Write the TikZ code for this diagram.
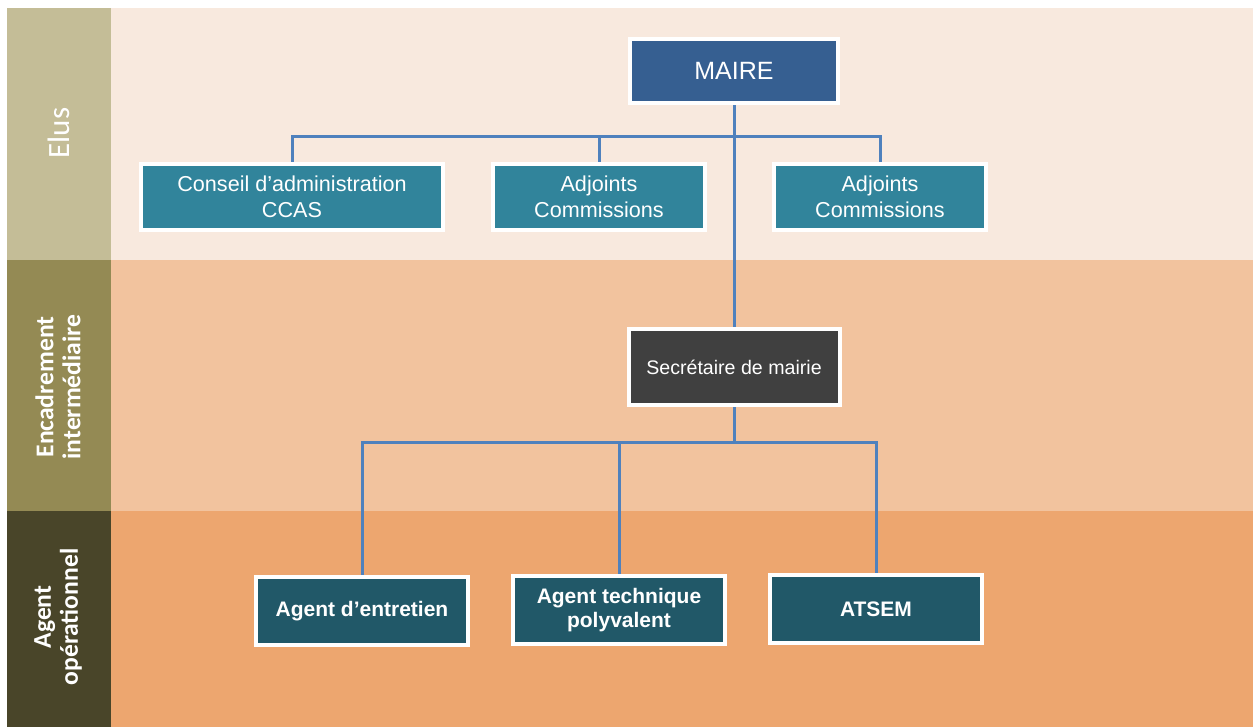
\documentclass[tikz,border=0pt]{standalone}
\usepackage{fontspec}
\setmainfont{Liberation Sans}
\newfontfamily\carlito{Carlito}
\usetikzlibrary{backgrounds,shadows}

\definecolor{colElus}{RGB}{196,189,151}
\definecolor{colEncad}{RGB}{148,138,84}
\definecolor{colAgent}{RGB}{73,69,41}
\definecolor{fondElus}{RGB}{248,233,222}
\definecolor{fondEncad}{RGB}{242,195,158}
\definecolor{fondAgent}{RGB}{237,166,111}
\definecolor{bleuMaire}{RGB}{54,95,145}
\definecolor{bleuElu}{RGB}{49,132,155}
\definecolor{grisSec}{RGB}{64,64,64}
\definecolor{bleuAgent}{RGB}{33,88,104}
\definecolor{bleuLien}{RGB}{79,129,189}

\tikzset{
	boite/.style={draw=white, line width=2pt, text=white, align=center, inner sep=0pt,
		drop shadow={shadow xshift=1pt, shadow yshift=-1pt, opacity=0.3, fill=black}},
	elu/.style={boite, fill=bleuElu, minimum width=106pt, minimum height=33pt,
		font=\fontsize{10.8}{12.8}\selectfont},
	agent/.style={boite, fill=bleuAgent, minimum width=106pt, minimum height=34pt,
		font=\bfseries\fontsize{10.5}{12}\selectfont},
	lien/.style={draw=bleuLien, line width=1.5pt},
	bande/.style={rotate=90, text=white, align=center,
		font=\carlito\bfseries\fontsize{12.8}{13.5}\selectfont}
}

\begin{document}
\begin{tikzpicture}[x=0.5pt, y=-0.5pt]
	\useasboundingbox (0,0) rectangle (1253,727);

	\node[boite, fill=bleuMaire, minimum width=104pt, minimum height=32pt,
		font=\fontsize{12.5}{14}\selectfont] (maire) at (734,71) {MAIRE};
	\node[elu, minimum width=151pt] (conseil) at (292,197) {Conseil d’administration\\CCAS};
	\node[elu] (adjointsA) at (599,197) {Adjoints\\Commissions};
	\node[elu] (adjointsB) at (880,197) {Adjoints\\Commissions};

	\node[boite, fill=grisSec, minimum width=105.5pt, minimum height=37.5pt,
		font=\fontsize{9.8}{12}\selectfont] (secretaire) at (734,367) {Secrétaire de mairie};

	\node[agent] (entretien) at (362,611) {Agent d’entretien};
	\node[agent] (technique) at (619,610) {Agent technique\\polyvalent};
	\node[agent] (atsem) at (876,609) {ATSEM};

	\node[bande, font=\carlito\fontsize{15.5}{18}\selectfont] (elus) at (59,133) {Elus};
	\node[bande] (encadrement) at (58,387) {Encadrement\\intermédiaire};
	\node[bande] (operationnel) at (58,617) {Agent\\opérationnel};

	\begin{scope}[on background layer]
		\fill[fondElus] (111,8) rectangle (1253,260);
		\fill[fondEncad] (111,260) rectangle (1253,511);
		\fill[fondAgent] (111,511) rectangle (1253,727);
		\fill[colElus] (7,8) rectangle (111,260);
		\fill[colEncad] (7,260) rectangle (111,511);
		\fill[colAgent] (7,511) rectangle (111,727);

		\path[lien] (maire.south) -- (secretaire.north);
		\path[lien] (maire.south) -- ++(0,32) -| (conseil.north);
		\path[lien] (maire.south) -- ++(0,32) -| (adjointsA.north);
		\path[lien] (maire.south) -- ++(0,32) -| (adjointsB.north);

		\path[lien] (secretaire.south) -- ++(0,36) -| (entretien.north);
		\path[lien] (secretaire.south) -- ++(0,36) -| (technique.north);
		\path[lien] (secretaire.south) -- ++(0,36) -| (atsem.north);
	\end{scope}

\end{tikzpicture}
\end{document}
